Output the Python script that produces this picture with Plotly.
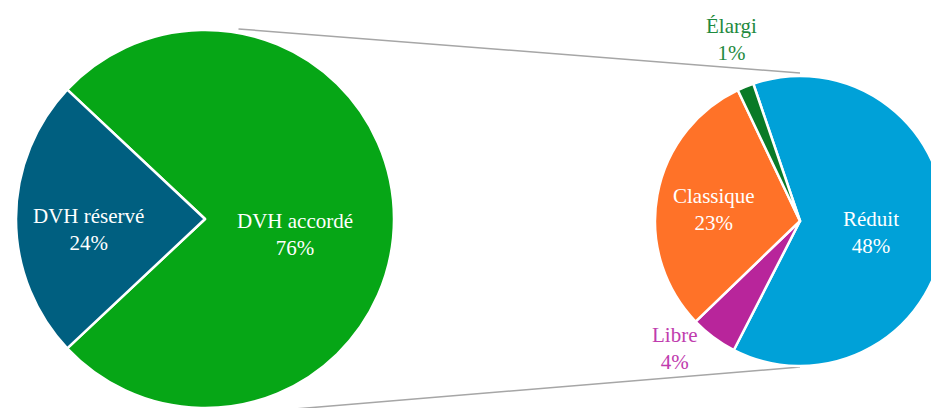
"""Pie of pie: DVH accordé split into sub-categories."""

import math

import plotly.graph_objects as go

# main pie
main_labels = ["DVH accordé", "DVH réservé"]
main_values = [76, 24]
main_colors = ["#06a616", "#005f80"]

# secondary pie (breakdown of "DVH accordé", shares of total)
sub_labels = ["Réduit", "Libre", "Classique", "Élargi"]
sub_values = [47.7, 4.0, 22.9, 1.4]
sub_colors = ["#00a1d8", "#b8259b", "#ff7228", "#097a27"]

W, H = 945, 408
FONT = "Liberation Serif"

# geometry in pixels (from top-left)
big_cx, big_cy, big_r = 205, 219, 189
small_cx, small_cy, small_r = 800, 221, 145


def px_domain(cx, cy, r):
    return dict(
        x=[max(0, (cx - r) / W), min(1, (cx + r) / W)],
        y=[max(0, 1 - (cy + r) / H), min(1, 1 - (cy - r) / H)],
    )


def to_paper(x, y):
    return x / W, 1 - y / H


def on_circle(cx, cy, r, angle_deg):
    a = math.radians(angle_deg)
    return cx + r * math.sin(a), cy - r * math.cos(a)


fig = go.Figure()

fig.add_trace(go.Pie(
    labels=main_labels,
    values=main_values,
    sort=False,
    direction="clockwise",
    rotation=313.2,
    marker=dict(colors=main_colors, line=dict(color="white", width=2.5)),
    textinfo="none",
    hoverinfo="label+value",
    domain=px_domain(big_cx, big_cy, big_r),
    showlegend=False,
))

fig.add_trace(go.Pie(
    labels=sub_labels,
    values=sub_values,
    sort=False,
    direction="clockwise",
    rotation=341.2,
    marker=dict(colors=sub_colors, line=dict(color="white", width=2.5)),
    textinfo="none",
    hoverinfo="label+value",
    domain=px_domain(small_cx, small_cy, small_r),
    showlegend=False,
))

# connector lines between the two pies (start a little outside the big pie)
connectors = [((big_r + 4, 10), (small_r + 3, 0)), ((big_r + 8, 178), (small_r + 1, 180))]
for (r0, a0), (r1, a1) in connectors:
    x0, y0 = to_paper(*on_circle(big_cx, big_cy, r0, a0))
    x1, y1 = to_paper(*on_circle(small_cx, small_cy, r1, a1))
    fig.add_shape(
        type="line", xref="paper", yref="paper",
        x0=x0, y0=y0, x1=x1, y1=y1,
        line=dict(color="#a6a6a6", width=1.5),
        layer="below",
    )

# data labels: (text, value, x, y, colour)
label_spots = [
    (main_labels[0], main_values[0], 295, 235, "white"),
    (main_labels[1], main_values[1], 88, 229, "white"),
    (sub_labels[0], sub_values[0], 871, 232, "white"),
    (sub_labels[1], sub_values[1], 674, 348, "#c03cae"),
    (sub_labels[2], sub_values[2], 714, 210, "white"),
    (sub_labels[3], sub_values[3], 731, 40, "#1f8a3e"),
]
for text, val, x, y, color in label_spots:
    px, py = to_paper(x, y)
    fig.add_annotation(
        x=px, y=py, xref="paper", yref="paper",
        text=f"{text}<br>{val:.0f}%",
        showarrow=False,
        font=dict(family=FONT, size=21, color=color),
        xanchor="center", yanchor="middle",
    )

fig.update_layout(
    width=W,
    height=H,
    margin=dict(l=0, r=0, t=0, b=0),
    paper_bgcolor="white",
    plot_bgcolor="white",
    showlegend=False,
)

# drop the default page margin so the chart sits flush in the window
fig.write_html(
    "out.html",
    config={"displayModeBar": False},
    post_script="document.body.style.margin = '0';",
)
